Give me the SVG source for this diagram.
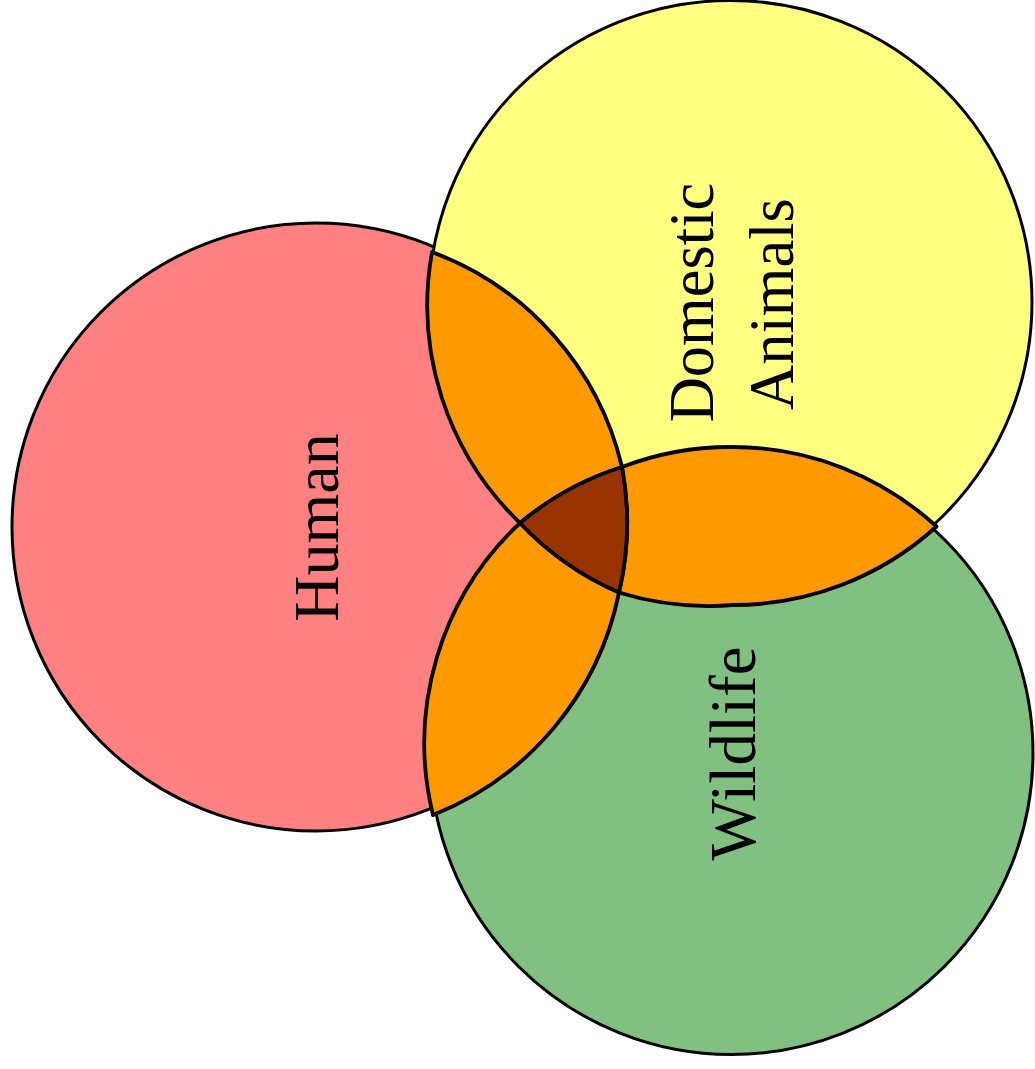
<svg xmlns="http://www.w3.org/2000/svg" width="1035" height="1069" viewBox="0 0 1035 1069">
<style>
.circ{stroke:#000;stroke-width:3}
.reg{stroke:#000;stroke-width:3.8;stroke-linejoin:round}
.orange{fill:#FF9900}
.core{fill:#993300}
.lbl{font-family:"Liberation Serif","Times New Roman",serif;fill:#000;text-anchor:middle}
</style>
<rect width="1035" height="1069" fill="#fff"/>
<g id="human">
<circle class="circ" cx="316" cy="527" r="304" fill="#FF8080"/>
</g>
<g id="domestic">
<circle class="circ" cx="730.5" cy="302" r="301.5" fill="#FFFF80"/>
</g>
<g id="wildlife">
<circle class="circ" cx="731.5" cy="753" r="301.5" fill="#80C080"/>
</g>
<g id="intersections">
<path id="human-domestic" class="reg orange" d="M432,252 A304,304 0 0 1 622,467 A301.5,301.5 0 0 0 520,523 A302,302 0 0 1 432,252 Z"/>
<path id="domestic-wildlife" class="reg orange" d="M622,467 A302,302 0 0 1 733,447 A302,302 0 0 1 936.5,526.5 A302,302 0 0 1 733,605 A302,302 0 0 1 619,592.5 A304,304 0 0 0 622,467 Z"/>
<path id="human-wildlife" class="reg orange" d="M520,523 A301.5,301.5 0 0 0 619,592.5 A304,304 0 0 1 433,815 A301.5,301.5 0 0 1 520,523 Z"/>
<path id="all-three" class="reg core" d="M520,523 A301.5,301.5 0 0 1 622,467 A304,304 0 0 1 619,592.5 A301.5,301.5 0 0 1 520,523 Z"/>
</g>
<g id="labels">
<text class="lbl" font-size="64" transform="translate(338,527.5) rotate(-90)">Human</text>
<text class="lbl" font-size="62.5" transform="translate(713,302.5) rotate(-90)">Domestic</text>
<text class="lbl" font-size="62.5" transform="translate(793,304) rotate(-90)">Animals</text>
<text class="lbl" font-size="65" transform="translate(755,753.5) rotate(-90)">Wildlife</text>
</g>
</svg>
